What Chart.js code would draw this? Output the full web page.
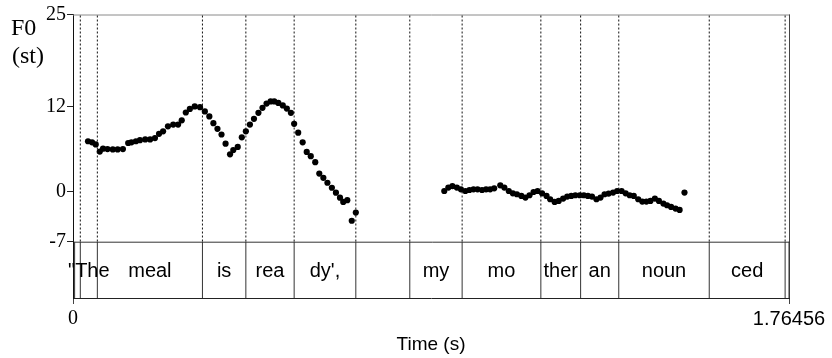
<!DOCTYPE html>
<html><head><meta charset="utf-8">
<style>html,body{margin:0;padding:0;background:#fff}#wrap{width:832px;height:358px}</style>
<script src="https://cdn.jsdelivr.net/npm/chart.js@4/dist/chart.umd.min.js"></script>
</head><body><div id="wrap"><canvas id="c" width="832" height="358"></canvas></div>
<script>
// F0 contour, first phrase: time (s) and F0 (semitones)
const timeSeg1 = [0.037,0.047,0.056,0.066,0.074,0.085,0.098,0.110,0.123,0.136,0.144,0.155,0.165,0.178,0.190,0.202,0.212,0.222,0.234,0.247,0.259,0.268,0.278,0.288,0.300,0.313,0.325,0.336,0.346,0.356,0.366,0.376,0.387,0.395,0.406,0.416,0.426,0.436,0.446,0.457,0.467,0.477,0.487,0.496,0.506,0.517,0.527,0.537,0.545,0.555,0.566,0.576,0.586,0.597,0.607,0.617,0.627,0.638,0.648,0.658,0.666,0.676,0.687,0.697];
const f0Seg1 = [7.15,7.0,6.7,5.7,6.1,6.05,6.0,6.0,6.05,6.9,7.0,7.15,7.3,7.4,7.4,7.6,8.2,8.55,9.25,9.5,9.5,10.1,11.2,11.7,12.05,11.95,11.35,10.65,9.7,8.9,8.1,6.8,5.3,5.9,6.35,7.7,8.55,9.5,10.3,11.15,11.85,12.45,12.75,12.75,12.55,12.2,11.75,11.15,9.6,8.35,7.0,5.65,5.05,4.2,2.6,2.0,1.3,0.6,-0.1,-0.8,-1.4,-1.15,-4.05,-2.9];
// second phrase
const timeSeg2 = [0.915,0.925,0.935,0.946,0.956,0.967,0.977,0.987,0.997,1.008,1.018,1.028,1.038,1.053,1.063,1.074,1.084,1.094,1.105,1.115,1.125,1.135,1.145,1.156,1.167,1.176,1.187,1.197,1.208,1.218,1.228,1.238,1.249,1.259,1.269,1.279,1.290,1.300,1.310,1.320,1.331,1.341,1.352,1.362,1.372,1.382,1.393,1.403,1.413,1.423,1.434,1.444,1.455,1.464,1.474,1.485,1.495,1.507];
const f0Seg2 = [0.14,0.62,0.84,0.62,0.38,0.14,0.28,0.38,0.38,0.28,0.38,0.38,0.52,0.94,0.62,0.14,-0.18,-0.32,-0.56,-0.79,-0.46,0,0.14,-0.18,-0.56,-1.02,-1.4,-1.26,-0.93,-0.65,-0.56,-0.46,-0.46,-0.46,-0.56,-0.65,-1.02,-0.79,-0.32,-0.22,-0.08,0.14,0.14,-0.18,-0.46,-0.56,-1.02,-1.35,-1.35,-1.26,-0.93,-1.26,-1.63,-1.87,-2.1,-2.33,-2.52,-0.08];
// syllable tier
const boundaryTimes = [0.004,0.018,0.060,0.319,0.426,0.545,0.697,0.830,0.959,1.153,1.251,1.345,1.568,1.755,1.76456];
const tierLabels = ['','"The','meal','is','rea',"dy',",'','my','mo','ther','an','noun','ced',''];
const yTickValues = [-7,0,12,25];
const xTickValues = [0,1.76456];
const xMax = 1.76456, yMin = -14.93, yMax = 25, tierTopValue = -7;

const toXY = (ts, vs) => ts.map((t,i)=>({x:t,y:vs[i]}));

const tierPlugin = {
  id:'tier',
  beforeDatasetsDraw(chart){
    const {ctx, chartArea:a, scales:{x,y}} = chart;
    const yTop = y.getPixelForValue(tierTopValue);
    const yHigh = y.getPixelForValue(yMax);
    const yBot = a.bottom;
    ctx.save();
    ctx.lineWidth = 1;
    // frame
    ctx.strokeStyle = '#8a8a8a';
    ctx.beginPath(); ctx.moveTo(a.left, yHigh+0.5); ctx.lineTo(a.right+1, yHigh+0.5); ctx.stroke();
    ctx.strokeStyle = '#444';
    ctx.beginPath(); ctx.moveTo(a.right+0.5, yHigh); ctx.lineTo(a.right+0.5, yBot); ctx.stroke();
    // dotted boundaries
    ctx.strokeStyle = '#111';
    ctx.setLineDash([2,2]);
    for (let i=1;i<boundaryTimes.length-1;i++){
      const px = x.getPixelForValue(boundaryTimes[i]);
      ctx.beginPath(); ctx.moveTo(px, yHigh+1); ctx.lineTo(px, yTop); ctx.stroke();
    }
    ctx.setLineDash([]);
    // tier box
    const xl = x.getPixelForValue(boundaryTimes[0]);
    ctx.strokeStyle = '#333';
    ctx.beginPath(); ctx.moveTo(xl, yTop+0.5); ctx.lineTo(a.right+1, yTop+0.5); ctx.stroke();
    for (let i=0;i<boundaryTimes.length;i++){
      const px = x.getPixelForValue(boundaryTimes[i]);
      ctx.beginPath(); ctx.moveTo(px, yTop); ctx.lineTo(px, yBot); ctx.stroke();
    }
    // labels
    ctx.fillStyle = '#000';
    ctx.font = '20px "Liberation Sans", Arial, sans-serif';
    ctx.textAlign = 'center';
    ctx.textBaseline = 'alphabetic';
    const base = yTop + 0.62*(yBot-yTop);
    for (let i=0;i<tierLabels.length;i++){
      if (!tierLabels[i]) continue;
      const m = (x.getPixelForValue(boundaryTimes[i]) + x.getPixelForValue(boundaryTimes[i+1]))/2;
      ctx.fillText(tierLabels[i], m, base);
    }
    ctx.restore();
  },
  afterDraw(chart){
    const {ctx} = chart;
    ctx.save();
    ctx.fillStyle = '#000';
    ctx.font = '24px "Liberation Serif", "Times New Roman", serif';
    ctx.textAlign = 'left';
    ctx.textBaseline = 'alphabetic';
    ctx.fillText('F0', 11, 35);
    ctx.fillText('(st)', 12, 63);
    ctx.restore();
  }
};

new Chart(document.getElementById('c'), {
  type:'scatter',
  data:{datasets:[
    {data:toXY(timeSeg1,f0Seg1), backgroundColor:'#000', borderWidth:0, pointRadius:3.1, showLine:false},
    {data:toXY(timeSeg2,f0Seg2), backgroundColor:'#000', borderWidth:0, pointRadius:3.1, showLine:false}
  ]},
  options:{
    responsive:false, animation:false, devicePixelRatio:1,
    layout:{padding:{top:14.5,right:43,left:0,bottom:0}},
    plugins:{legend:{display:false}, tooltip:{enabled:false}},
    scales:{
      x:{type:'linear', min:0, max:xMax,
        afterBuildTicks:s=>{s.ticks = xTickValues.map(v=>({value:v}));},
        ticks:{autoSkip:false, maxRotation:0, color:'#000', padding:3,
          font:(c)=> (c.tick && c.tick.value===0) ? {family:'"Liberation Serif", serif', size:20} : {family:'"Liberation Sans", Arial, sans-serif', size:20},
          callback:(v)=> String(v)},
        grid:{drawOnChartArea:false, drawTicks:true, tickLength:6, color:'#444'},
        border:{display:true, color:'#222'},
        title:{display:true, text:'Time (s)', color:'#000', font:{family:'"Liberation Sans", Arial, sans-serif', size:19}, padding:{top:0,bottom:2}},
        afterFit:s=>{s.height = 60;}
      },
      y:{type:'linear', min:yMin, max:yMax,
        afterBuildTicks:s=>{s.ticks = yTickValues.map(v=>({value:v}));},
        ticks:{autoSkip:false, color:'#000', padding:1, font:{family:'"Liberation Serif", "Times New Roman", serif', size:20}},
        grid:{drawOnChartArea:false, drawTicks:true, tickLength:6, color:'#222'},
        border:{display:true, color:'#111'},
        afterFit:s=>{s.width = 73;}
      }
    }
  },
  plugins:[tierPlugin]
});
</script></body></html>
